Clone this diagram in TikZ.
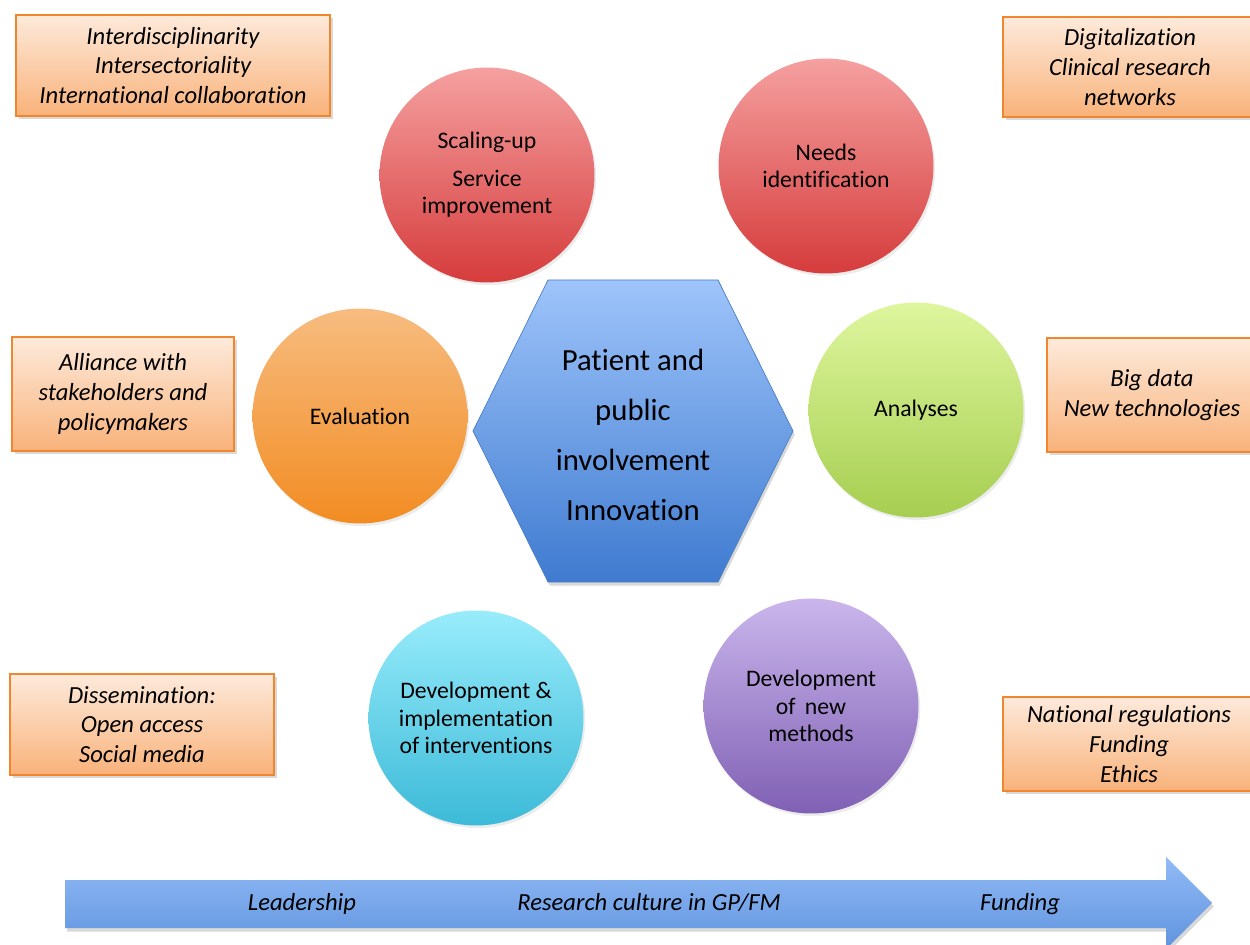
\documentclass[tikz,border=0pt]{standalone}
\usepackage{fontspec}
\setmainfont[Ligatures=NoCommon]{Carlito}
\usetikzlibrary{shadows}

\definecolor{boxtop}{HTML}{FDEADB}
\definecolor{boxbot}{HTML}{F9B27A}
\definecolor{boxline}{HTML}{F0872F}
\definecolor{redtop}{HTML}{F5A0A0}
\definecolor{redbot}{HTML}{D63C3C}
\definecolor{orgtop}{HTML}{F7BC80}
\definecolor{orgbot}{HTML}{F28C22}
\definecolor{grntop}{HTML}{DEF69E}
\definecolor{grnbot}{HTML}{A6CE50}
\definecolor{cyntop}{HTML}{98ECFB}
\definecolor{cynbot}{HTML}{3CBAD8}
\definecolor{purtop}{HTML}{CAB6EC}
\definecolor{purbot}{HTML}{8060B4}
\definecolor{hextop}{HTML}{9EC4FA}
\definecolor{hexbot}{HTML}{3F7BD0}
\definecolor{hexline}{HTML}{4A7EC4}
\definecolor{arrtop}{HTML}{92BAF6}
\definecolor{arrbot}{HTML}{5F94DE}

\begin{document}
\begin{tikzpicture}[x=0.02cm, y=-0.02cm,
    sidebox/.style={draw=boxline, line width=0.9pt, top color=boxtop, bottom color=boxbot,
        drop shadow={opacity=0.3, shadow xshift=1.5pt, shadow yshift=-1.5pt},
        font=\fontsize{14}{17}\selectfont\itshape, align=center, inner sep=0pt},
    stage/.style={circle, minimum size=4.3cm, inner sep=0pt, align=center,
        drop shadow={opacity=0.15, shadow xshift=1pt, shadow yshift=-1.5pt},
        font=\fontsize{13.5}{15.5}\selectfont},
    arrowtext/.style={font=\fontsize{14}{17}\selectfont\itshape,
        text height=10pt, text depth=3pt, inner sep=0pt}]
    \useasboundingbox (0,0) rectangle (1250,945);

    % surrounding factors
    \node[sidebox, minimum width=6.28cm, minimum height=2.02cm] (interdisc) at (173,65.5)
        {Interdisciplinarity\\Intersectoriality\\International collaboration};
    \node[sidebox, minimum width=5.08cm, minimum height=2cm] (digital) at (1130,67)
        {Digitalization\\Clinical research\\networks};
    \node[sidebox, minimum width=4.44cm, minimum height=2.28cm] (alliance) at (123,394)
        {Alliance with\\stakeholders and\\policymakers};
    \node[sidebox, minimum width=4.2cm, minimum height=2.28cm] (bigdata) at (1152,395)
        {Big data\\New technologies};
    \node[sidebox, minimum width=5.28cm, minimum height=2.02cm] (dissem) at (142,724.5)
        {Dissemination:\\Open access\\Social media};
    \node[sidebox, minimum width=5.04cm, minimum height=1.88cm] (regul) at (1129,744)
        {National regulations\\Funding\\Ethics};

    % research cycle
    \node[stage, top color=redtop, bottom color=redbot] (scaleup) at (487,175)
        {Scaling-up\\[6pt]Service\\improvement};
    \node[stage, top color=redtop, bottom color=redbot] (needs) at (826,166)
        {Needs\\identification};
    \node[stage, top color=orgtop, bottom color=orgbot] (evaluation) at (360,416)
        {Evaluation};
    \node[stage, top color=grntop, bottom color=grnbot] (analyses) at (916,410)
        {Analyses};
    \node[stage, top color=cyntop, bottom color=cynbot] (develimpl) at (476,718)
        {Development \&\\implementation\\of interventions};
    \node[stage, top color=purtop, bottom color=purbot] (newmethods) at (811,706)
        {Development\\of\, new\\methods};

    % centre
    \coordinate (h1) at (548,280);
    \coordinate (h2) at (718,280);
    \coordinate (h3) at (793,431);
    \coordinate (h4) at (718,582);
    \coordinate (h5) at (548,582);
    \coordinate (h6) at (473,431);
    \draw[hexline, top color=hextop, bottom color=hexbot,
        drop shadow={opacity=0.3, shadow xshift=1pt, shadow yshift=-2pt}]
        (h1) -- (h2) -- (h3) -- (h4) -- (h5) -- (h6) -- cycle;
    \node[align=center, font=\fontsize{17.5}{28.5}\selectfont] (ppi) at (633,435)
        {Patient and\\public\\involvement\\Innovation};

    % bottom arrow
    \coordinate (a1) at (65,880);
    \coordinate (a2) at (1166,880);
    \coordinate (a3) at (1166,857);
    \coordinate (tip) at (1212,903);
    \coordinate (a5) at (1166,949);
    \coordinate (a6) at (1166,928);
    \coordinate (a7) at (65,928);
    \path[top color=arrtop, bottom color=arrbot,
        drop shadow={opacity=0.3, shadow xshift=1pt, shadow yshift=-2pt}]
        (a1) -- (a2) -- (a3) -- (tip) -- (a5) -- (a6) -- (a7) -- cycle;
    \node[arrowtext] (lead) at (302,904) {Leadership};
    \node[arrowtext] (culture) at (649,904) {Research culture in GP/FM};
    \node[arrowtext] (fund) at (1020,904) {Funding};
\end{tikzpicture}
\end{document}
